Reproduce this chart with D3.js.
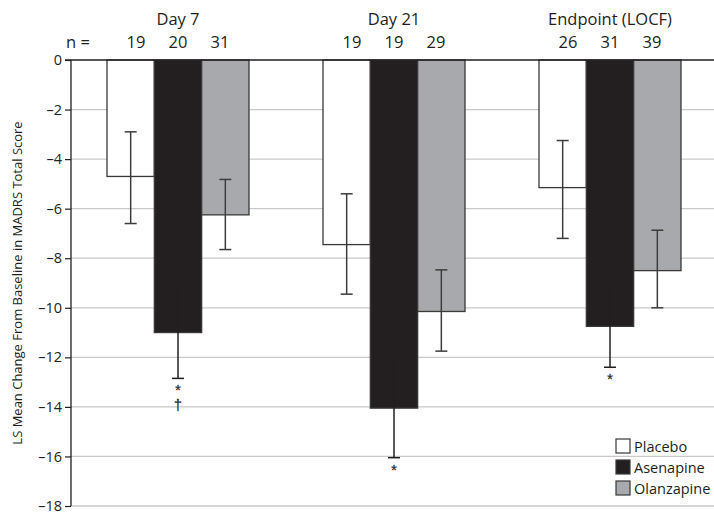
<!DOCTYPE html>
<html>
<head>
<meta charset="utf-8">
<script src="https://cdn.jsdelivr.net/npm/d3@7"></script>
<style>
  html, body { margin: 0; padding: 0; background: #fff; }
  svg { display: block; font-family: "Open Sans", "Liberation Sans", sans-serif; }
</style>
</head>
<body>
<svg id="chart" width="714" height="514"></svg>
<script>
// data
const timepoints = ["Day 7", "Day 21", "Endpoint (LOCF)"];
const treatments = ["Placebo", "Asenapine", "Olanzapine"];
const nCounts = [
  [19, 20, 31],
  [19, 19, 29],
  [26, 31, 39]
];
const lsMeans = [
  [-4.7, -11.0, -6.25],
  [-7.45, -14.05, -10.15],
  [-5.15, -10.75, -8.5]
];
const errLow = [
  [-6.6, -12.85, -7.65],
  [-9.45, -16.05, -11.75],
  [-7.2, -12.4, -10.0]
];
const errHigh = [
  [-2.9, -9.15, -4.82],
  [-5.4, -12.05, -8.47],
  [-3.25, -9.1, -6.87]
];
const markers = [
  ["", "*\u2020", ""],
  ["", "*", ""],
  ["", "*", ""]
];
const yTicks = [0, -2, -4, -6, -8, -10, -12, -14, -16, -18];
const yLabel = "LS Mean Change From Baseline in MADRS Total Score";

const fills = { Placebo: "#ffffff", Asenapine: "#231f20", Olanzapine: "#a7a9ac" };
const ink = "#231f20";

const svg = d3.select("#chart");
const margin = { left: 71, top: 60 };

const y = d3.scaleLinear().domain([0, -18]).range([60, 506]);
const x0 = d3.scaleBand().domain(timepoints).range([70, 718]);
const groupW = 142;
const x1 = d3.scaleBand().domain(treatments).range([0, groupW]);

// gridlines
svg.append("g")
  .selectAll("line")
  .data(yTicks.filter(d => d !== 0))
  .join("line")
  .attr("x1", margin.left).attr("x2", 714)
  .attr("y1", d => y(d)).attr("y2", d => y(d))
  .attr("stroke", "#c9c9c9").attr("stroke-width", 1.3);

// y axis
const yAxis = d3.axisLeft(y)
  .tickValues(yTicks)
  .tickSize(6)
  .tickPadding(3)
  .tickFormat(d => d === 0 ? "0" : "\u2013" + Math.abs(d));
const ya = svg.append("g").attr("transform", `translate(${margin.left},0)`).call(yAxis);
ya.select(".domain").attr("stroke", ink).attr("stroke-width", 1.3).attr("d", `M0,${y(0)}V${y(-18)}`);
ya.selectAll(".tick line").attr("stroke", ink).attr("stroke-width", 1.2);
ya.selectAll(".tick text").attr("fill", ink).style("font-size", "14.5px").style("font-family", "Open Sans, sans-serif");

// rows of bars
const rows = [];
timepoints.forEach((t, i) => {
  treatments.forEach((s, j) => {
    rows.push({ t, s, n: nCounts[i][j], v: lsMeans[i][j], lo: errLow[i][j], hi: errHigh[i][j], mk: markers[i][j] });
  });
});
const bx = d => x0(d.t) + x0.bandwidth() / 2 - groupW / 2 + x1(d.s);
const cx = d => bx(d) + x1.bandwidth() / 2;

svg.append("g")
  .selectAll("rect")
  .data(rows)
  .join("rect")
  .attr("x", bx)
  .attr("width", x1.bandwidth())
  .attr("y", y(0))
  .attr("height", d => y(d.v) - y(0))
  .attr("fill", d => fills[d.s])
  .attr("stroke", "#3a3839")
  .attr("stroke-width", 1.3);

// top zero line
svg.append("line")
  .attr("x1", margin.left - 6).attr("x2", 714)
  .attr("y1", y(0)).attr("y2", y(0))
  .attr("stroke", ink).attr("stroke-width", 1.4);

// error bars (dark on the black bar so the upper half disappears, as in the source)
const ebColor = d => d.s === "Asenapine" ? ink : "#3d3d3d";
const eb = svg.append("g").attr("stroke-width", 1.5);
eb.selectAll("line.v").data(rows).join("line").attr("class", "v")
  .attr("stroke", ebColor)
  .attr("x1", cx).attr("x2", cx)
  .attr("y1", d => y(d.hi)).attr("y2", d => y(d.lo));
eb.selectAll("line.lo").data(rows).join("line").attr("class", "lo")
  .attr("stroke", ebColor)
  .attr("x1", d => cx(d) - 6).attr("x2", d => cx(d) + 6)
  .attr("y1", d => y(d.lo)).attr("y2", d => y(d.lo));
eb.selectAll("line.hi").data(rows).join("line").attr("class", "hi")
  .attr("stroke", ebColor)
  .attr("x1", d => cx(d) - 6).attr("x2", d => cx(d) + 6)
  .attr("y1", d => y(d.hi)).attr("y2", d => y(d.hi));

// significance markers
const mk = svg.append("g").attr("text-anchor", "middle")
  .style("font-size", "14px").style("font-family", "Liberation Sans, sans-serif");
rows.filter(d => d.mk).forEach(d => {
  d.mk.split("").forEach((c, k) => {
    mk.append("text")
      .attr("x", cx(d))
      .attr("y", y(d.lo) + 17 + k * 15)
      .attr("fill", "#2b2b2b")
      .attr("stroke", "#2b2b2b")
      .attr("stroke-width", 0.3)
      .text(c);
  });
});

// n counts
const nOff = [-42, 0, 42];
const nl = svg.append("g").attr("fill", ink).attr("text-anchor", "middle").style("font-size", "16.5px");
nl.append("text").attr("x", 78).attr("y", 48).text("n =");
rows.forEach(d => {
  nl.append("text")
    .attr("x", x0(d.t) + x0.bandwidth() / 2 + nOff[treatments.indexOf(d.s)])
    .attr("y", 48)
    .text(d.n);
});

// group labels
svg.append("g").attr("fill", ink).attr("text-anchor", "middle").style("font-size", "16.5px")
  .selectAll("text").data(timepoints).join("text")
  .attr("x", d => x0(d) + x0.bandwidth() / 2)
  .attr("y", 25)
  .text(d => d);

// y label
svg.append("text")
  .attr("transform", "translate(22,283) rotate(-90)")
  .attr("text-anchor", "middle")
  .attr("fill", ink)
  .style("font-size", "13px")
  .text(yLabel);

// legend
const lg = svg.append("g").attr("transform", "translate(616,439)");
treatments.forEach((s, i) => {
  const g = lg.append("g").attr("transform", `translate(0,${i * 21})`);
  g.append("rect").attr("width", 14).attr("height", 14)
    .attr("fill", fills[s]).attr("stroke", "#3a3839").attr("stroke-width", 1.2);
  g.append("text").attr("x", 18).attr("y", 12.5).attr("fill", ink).style("font-size", "14.5px").text(s);
});
</script>
</body>
</html>
